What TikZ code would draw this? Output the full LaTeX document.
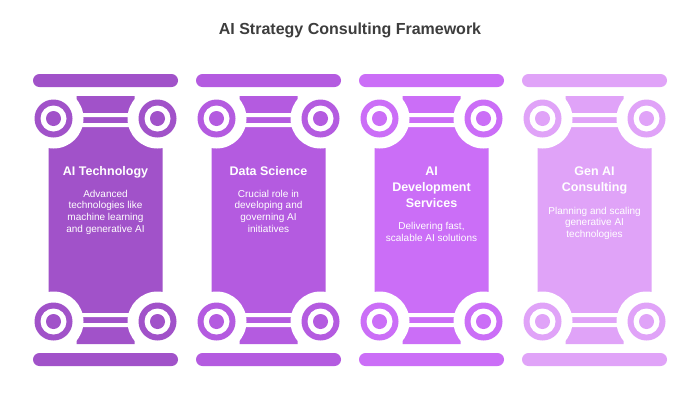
\documentclass[tikz,border=0pt]{standalone}
\usepackage{fontspec}
\setmainfont{Liberation Sans}
\usepackage{tikz}
\definecolor{techpurple}{HTML}{A152C9}
\definecolor{datapurple}{HTML}{B45BE0}
\definecolor{devpurple}{HTML}{CB6EF7}
\definecolor{genpurple}{HTML}{E0A3F8}
\definecolor{titlegray}{HTML}{3D3D3D}
\def\leftring{(-52,-101.5)}
\def\rightring{(52,-101.5)}
\newcommand{\capital}[1]{%
	\fill[white] \leftring circle (30pt) \rightring circle (30pt);
	\fill[white] (-52,-107) rectangle (52,-103) (-52,-97) rectangle (52,-93);
	\fill[#1] \leftring circle (19pt) \rightring circle (19pt);
	\fill[white] \leftring circle (13pt) \rightring circle (13pt);
	\fill[#1] \leftring circle (7.5pt) \rightring circle (7.5pt);
	\fill[#1,rounded corners=6.5pt] (-72.5,-146) rectangle (72.5,-133);
}
\newcommand{\pillar}[2]{%
	\begin{scope}[shift={(#1,220)}]
		\fill[#2] (-29,-124) -- (29,-124) -- (29,-90) -- (57,-90) -- (57,90) -- (29,90)
			-- (29,124) -- (-29,124) -- (-29,90) -- (-57,90) -- (-57,-90) -- (-29,-90) -- cycle;
		\capital{#2}
		\begin{scope}[yscale=-1]
			\capital{#2}
		\end{scope}
	\end{scope}
}

\begin{document}
\begin{tikzpicture}[x=1pt,y=-1pt,
		headtext/.style={text=white,font=\bfseries\fontsize{12.5}{15.8}\selectfont,align=center,inner sep=0pt,anchor=base},
		bodytext/.style={text=white,font=\fontsize{10}{11.7}\selectfont,align=center,inner sep=0pt,anchor=base}]
	\fill[white] (0,0) rectangle (700,400);
	\useasboundingbox (0,0) rectangle (700,400);
	\node[text=titlegray,font=\bfseries\fontsize{16}{19}\selectfont,inner sep=0pt,anchor=base] (title) at (350,34) {AI Strategy Consulting Framework};
	\pillar{105.5}{techpurple}
	\pillar{268.5}{datapurple}
	\pillar{431.5}{devpurple}
	\pillar{594.5}{genpurple}
	\node[headtext] (techhead) at (105.5,175.5) {AI Technology};
	\node[bodytext] (techtext) at (105.5,232.1) {Advanced\\technologies like\\machine learning\\and generative AI};
	\node[headtext] (datahead) at (268.5,175.5) {Data Science};
	\node[bodytext] (datatext) at (268.5,232.1) {Crucial role in\\developing and\\governing AI\\initiatives};
	\node[headtext] (devhead) at (431.5,207.1) {AI\\Development\\Services};
	\node[bodytext] (devtext) at (431.5,241.2) {Delivering fast,\\scalable AI solutions};
	\node[headtext] (genhead) at (594.5,191.3) {Gen AI\\Consulting};
	\node[bodytext] (gentext) at (594.5,237.4) {Planning and scaling\\generative AI\\technologies};
\end{tikzpicture}
\end{document}
